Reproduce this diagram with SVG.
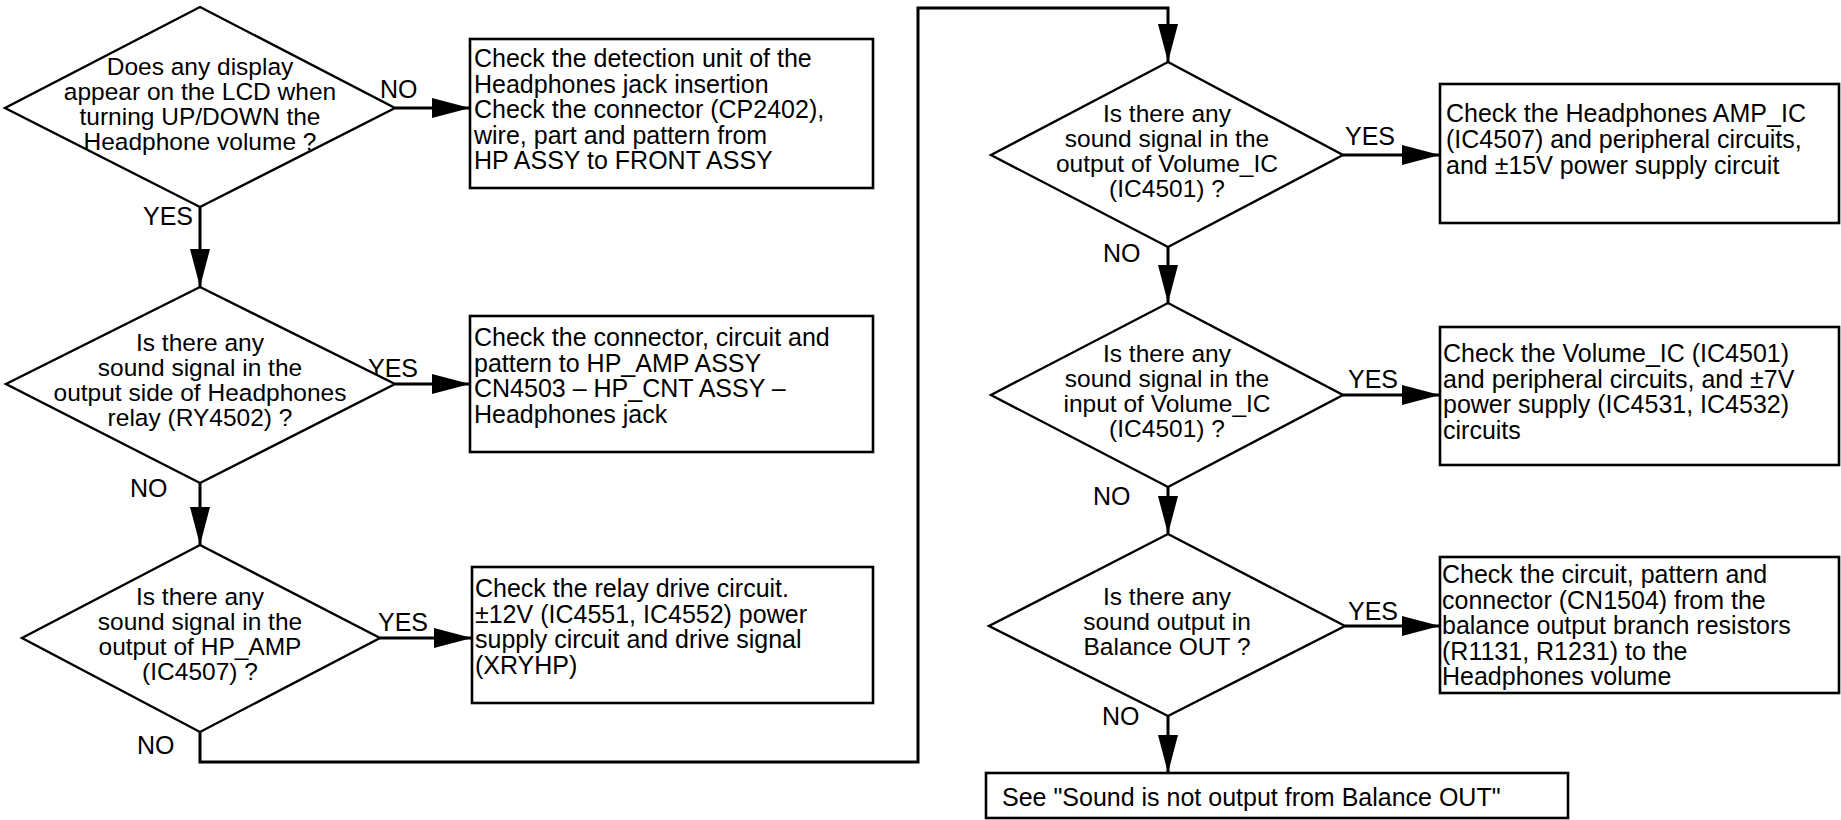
<svg xmlns="http://www.w3.org/2000/svg" width="1841" height="820" viewBox="0 0 1841 820">
<style>
.shape{fill:#fff;stroke:#000;stroke-width:2.4}
.box{fill:#fff;stroke:#000;stroke-width:2.6}
.conn{fill:none;stroke:#000;stroke-width:3}
text{font-family:"Liberation Sans",Arial,sans-serif;font-size:25px;fill:#000}
.c{text-anchor:middle}
.dt{font-size:24.5px}
</style>
<defs>
<marker id="ah" viewBox="0 0 38 20" refX="38" refY="10" markerWidth="38" markerHeight="20" markerUnits="userSpaceOnUse" orient="auto">
<path d="M0,0 L38,10 L0,20 z" fill="#000"/>
</marker>
</defs>
<rect width="1841" height="820" fill="#fff"/>

<g id="connectors">
<line class="conn" x1="395" y1="108" x2="470" y2="108" marker-end="url(#ah)"/>
<line class="conn" x1="200" y1="207" x2="200" y2="287" marker-end="url(#ah)"/>
<line class="conn" x1="395" y1="384" x2="470" y2="384" marker-end="url(#ah)"/>
<line class="conn" x1="200" y1="483" x2="200" y2="545" marker-end="url(#ah)"/>
<line class="conn" x1="380" y1="638" x2="472" y2="638" marker-end="url(#ah)"/>
<path class="conn" d="M200,732 L200,762 L918,762 L918,8 L1168,8 L1168,62" marker-end="url(#ah)"/>
<line class="conn" x1="1343" y1="155" x2="1440" y2="155" marker-end="url(#ah)"/>
<line class="conn" x1="1168" y1="247" x2="1168" y2="303" marker-end="url(#ah)"/>
<line class="conn" x1="1343" y1="395" x2="1440" y2="395" marker-end="url(#ah)"/>
<line class="conn" x1="1168" y1="487" x2="1168" y2="534" marker-end="url(#ah)"/>
<line class="conn" x1="1345" y1="626" x2="1440" y2="626" marker-end="url(#ah)"/>
<line class="conn" x1="1168" y1="716" x2="1168" y2="773" marker-end="url(#ah)"/>
<text x="380" y="98">NO</text>
<text x="193" y="225" text-anchor="end">YES</text>
<text x="368" y="377">YES</text>
<text x="130" y="497">NO</text>
<text x="378" y="631">YES</text>
<text x="137" y="754">NO</text>
<text x="1345" y="145">YES</text>
<text x="1103" y="262">NO</text>
<text x="1348" y="388">YES</text>
<text x="1093" y="505">NO</text>
<text x="1348" y="620">YES</text>
<text x="1102" y="725">NO</text>
</g>

<g id="d1">
<polygon class="shape" points="200,7 395,108 200,207 5,108"/>
<text class="c dt"><tspan x="200" y="74.5">Does any display</tspan><tspan x="200" y="99.5">appear on the LCD when</tspan><tspan x="200" y="124.5">turning UP/DOWN the</tspan><tspan x="200" y="149.5">Headphone volume ?</tspan></text>
</g>
<g id="b1">
<rect class="box" x="470" y="39" width="403" height="149"/>
<text><tspan x="474" y="67">Check the detection unit of the</tspan><tspan x="474" y="92.5">Headphones jack insertion</tspan><tspan x="474" y="118">Check the connector (CP2402),</tspan><tspan x="474" y="143.5">wire, part and pattern from</tspan><tspan x="474" y="169">HP ASSY to FRONT ASSY</tspan></text>
</g>

<g id="d2">
<polygon class="shape" points="200,287 395,384 200,483 6,384"/>
<text class="c dt"><tspan x="200" y="350.5">Is there any</tspan><tspan x="200" y="375.5">sound signal in the</tspan><tspan x="200" y="400.5">output side of Headphones</tspan><tspan x="200" y="425.5">relay (RY4502) ?</tspan></text>
</g>
<g id="b2">
<rect class="box" x="470" y="316" width="403" height="136"/>
<text><tspan x="474" y="346">Check the connector, circuit and</tspan><tspan x="474" y="371.5">pattern to HP_AMP ASSY</tspan><tspan x="474" y="397">CN4503 – HP_CNT ASSY –</tspan><tspan x="474" y="422.5">Headphones jack</tspan></text>
</g>

<g id="d3">
<polygon class="shape" points="200,545 380,638 200,732 22,638"/>
<text class="c dt"><tspan x="200" y="604.5">Is there any</tspan><tspan x="200" y="629.5">sound signal in the</tspan><tspan x="200" y="654.5">output of HP_AMP</tspan><tspan x="200" y="679.5">(IC4507) ?</tspan></text>
</g>
<g id="b3">
<rect class="box" x="472" y="567" width="401" height="136"/>
<text><tspan x="475" y="597">Check the relay drive circuit.</tspan><tspan x="475" y="622.5">±12V (IC4551, IC4552) power</tspan><tspan x="475" y="648">supply circuit and drive signal</tspan><tspan x="475" y="673.5">(XRYHP)</tspan></text>
</g>

<g id="d4">
<polygon class="shape" points="1168,62 1343,155 1168,247 991,155"/>
<text class="c dt"><tspan x="1167" y="121.5">Is there any</tspan><tspan x="1167" y="146.5">sound signal in the</tspan><tspan x="1167" y="171.5">output of Volume_IC</tspan><tspan x="1167" y="196.5">(IC4501) ?</tspan></text>
</g>
<g id="b4">
<rect class="box" x="1440" y="84" width="399" height="139"/>
<text><tspan x="1446" y="122">Check the Headphones AMP_IC</tspan><tspan x="1446" y="148">(IC4507) and peripheral circuits,</tspan><tspan x="1446" y="174">and ±15V power supply circuit</tspan></text>
</g>

<g id="d5">
<polygon class="shape" points="1168,303 1343,395 1168,487 991,395"/>
<text class="c dt"><tspan x="1167" y="361.5">Is there any</tspan><tspan x="1167" y="386.5">sound signal in the</tspan><tspan x="1167" y="411.5">input of Volume_IC</tspan><tspan x="1167" y="436.5">(IC4501) ?</tspan></text>
</g>
<g id="b5">
<rect class="box" x="1440" y="327" width="399" height="138"/>
<text><tspan x="1443" y="362">Check the Volume_IC (IC4501)</tspan><tspan x="1443" y="387.5">and peripheral circuits, and ±7V</tspan><tspan x="1443" y="413">power supply (IC4531, IC4532)</tspan><tspan x="1443" y="438.5">circuits</tspan></text>
</g>

<g id="d6">
<polygon class="shape" points="1168,534 1345,626 1168,716 989,626"/>
<text class="c dt"><tspan x="1167" y="605">Is there any</tspan><tspan x="1167" y="630">sound output in</tspan><tspan x="1167" y="655">Balance OUT ?</tspan></text>
</g>
<g id="b6">
<rect class="box" x="1440" y="557" width="399" height="136"/>
<text><tspan x="1442" y="583">Check the circuit, pattern and</tspan><tspan x="1442" y="608.5">connector (CN1504) from the</tspan><tspan x="1442" y="634">balance output branch resistors</tspan><tspan x="1442" y="659.5">(R1131, R1231) to the</tspan><tspan x="1442" y="685">Headphones volume</tspan></text>
</g>

<g id="see">
<rect class="box" x="986" y="773" width="582" height="45"/>
<text x="1002" y="806">See "Sound is not output from Balance OUT"</text>
</g>
</svg>
